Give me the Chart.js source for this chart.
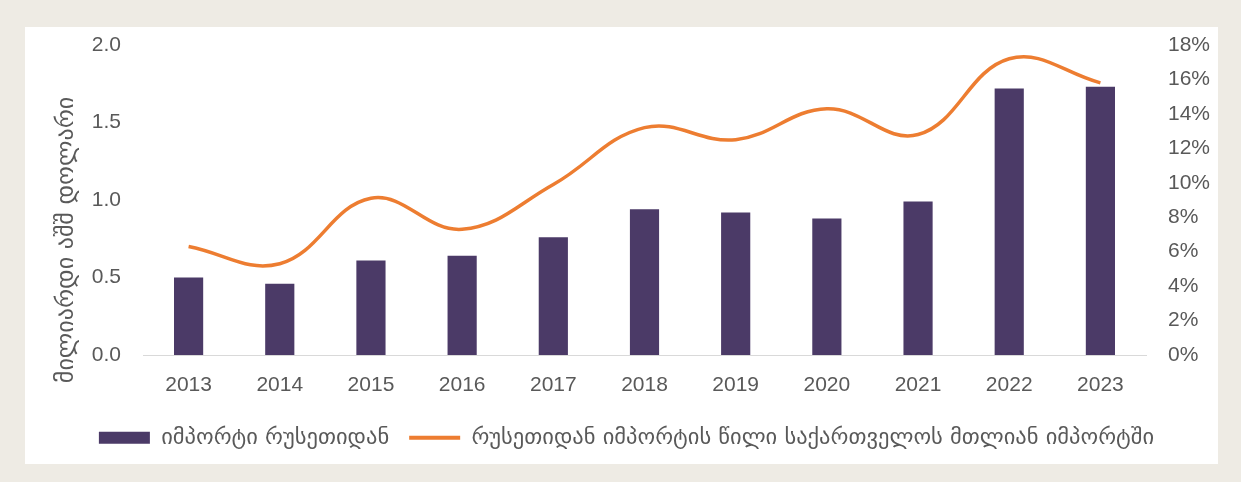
<!DOCTYPE html>
<html>
<head>
<meta charset="utf-8">
<script src="https://cdn.jsdelivr.net/npm/chart.js@4.4.1/dist/chart.umd.min.js"></script>
<style>
  html,body{margin:0;padding:0;background:#eeebe4;width:1241px;height:482px;overflow:hidden;}
  #panel{position:absolute;left:25px;top:27px;width:1193px;height:437px;background:#ffffff;}
  canvas{display:block;}
</style>
</head>
<body>
<div id="panel"><canvas id="c" width="1193" height="437"></canvas></div>
<script>
const years = ['2013','2014','2015','2016','2017','2018','2019','2020','2021','2022','2023'];
const importsFromRussia = [0.50, 0.46, 0.61, 0.64, 0.76, 0.94, 0.92, 0.88, 0.99, 1.72, 1.73];
const shareOfTotal = [6.3, 5.3, 9.1, 7.3, 9.9, 13.2, 12.5, 14.3, 12.8, 17.2, 15.8];
const leftTicks = [0, 0.5, 1.0, 1.5, 2.0];
const rightTicks = [0, 2, 4, 6, 8, 10, 12, 14, 16, 18];
const barLabel = 'იმპორტი რუსეთიდან';
const lineLabel = 'რუსეთიდან იმპორტის წილი საქართველოს მთლიან იმპორტში';
const yTitle = 'მილიარდი აშშ დოლარი';

const PURPLE = '#4b3a67';
const ORANGE = '#ed7d31';
const GREY = '#595959';
const FONT = "'Liberation Sans', 'DejaVu Sans', sans-serif";

const yTitlePlugin = {
  id: 'ytitle',
  afterDraw(chart) {
    const ctx = chart.ctx;
    ctx.save();
    ctx.translate(42, 213);
    ctx.rotate(-Math.PI / 2);
    ctx.font = "24px 'DejaVu Sans'";
    ctx.fillStyle = GREY;
    ctx.textAlign = 'center';
    ctx.textBaseline = 'middle';
    ctx.fillText(yTitle, 0, 0);
    ctx.restore();
  }
};

function fixVertical(width) {
  return function (scale) {
    scale.width = width;
    scale.paddingTop = 0;
    scale.paddingBottom = 0;
  };
}

new Chart(document.getElementById('c'), {
  data: {
    labels: years,
    datasets: [
      {
        type: 'bar',
        label: barLabel,
        data: importsFromRussia,
        backgroundColor: PURPLE,
        yAxisID: 'y',
        barPercentage: 0.32,
        categoryPercentage: 1,
        order: 1
      },
      {
        type: 'line',
        label: lineLabel,
        data: shareOfTotal,
        borderColor: ORANGE,
        backgroundColor: ORANGE,
        borderWidth: 3.5,
        pointRadius: 0,
        tension: 0.4,
        yAxisID: 'y1',
        order: 0
      }
    ]
  },
  options: {
    responsive: false,
    animation: false,
    layout: { padding: { top: 18, left: 10, right: 0, bottom: 5 } },
    plugins: {
      tooltip: { enabled: false },
      legend: {
        position: 'bottom',
        labels: {
          font: { family: "'DejaVu Sans'", size: 22.5 },
          color: GREY,
          usePointStyle: true,
          pointStyleWidth: 51,
          boxHeight: 12,
          padding: 20,
          generateLabels(chart) {
            const items = Chart.defaults.plugins.legend.labels.generateLabels(chart);
            items.sort((a, b) => a.datasetIndex - b.datasetIndex);
            items.forEach(it => {
              if (it.datasetIndex === 0) {
                it.pointStyle = 'rect';
                it.lineWidth = 0;
                it.fillStyle = PURPLE;
              } else {
                it.pointStyle = 'line';
                it.lineWidth = 4;
                it.strokeStyle = ORANGE;
              }
            });
            return items;
          }
        }
      }
    },
    scales: {
      x: {
        grid: { display: false, drawTicks: false },
        border: { display: true, color: '#d9d9d9', width: 1 },
        ticks: { color: GREY, font: { family: FONT, size: 21 }, padding: 18 },
        afterFit(scale) { scale.height = 51.5; }
      },
      y: {
        position: 'left',
        min: 0, max: 2,
        grid: { display: false, drawTicks: false },
        border: { display: false },
        afterBuildTicks(scale) { scale.ticks = leftTicks.map(v => ({ value: v })); },
        ticks: {
          color: GREY, font: { family: FONT, size: 21 }, padding: 22,
          callback: v => Number(v).toFixed(1)
        },
        afterFit: fixVertical(108)
      },
      y1: {
        position: 'right',
        min: 0, max: 18,
        grid: { display: false, drawTicks: false },
        border: { display: false },
        afterBuildTicks(scale) { scale.ticks = rightTicks.map(v => ({ value: v })); },
        ticks: {
          color: GREY, font: { family: FONT, size: 21 }, padding: 22,
          callback: v => v + '%'
        },
        afterFit: fixVertical(72)
      }
    }
  },
  plugins: [yTitlePlugin]
});
</script>
</body>
</html>
